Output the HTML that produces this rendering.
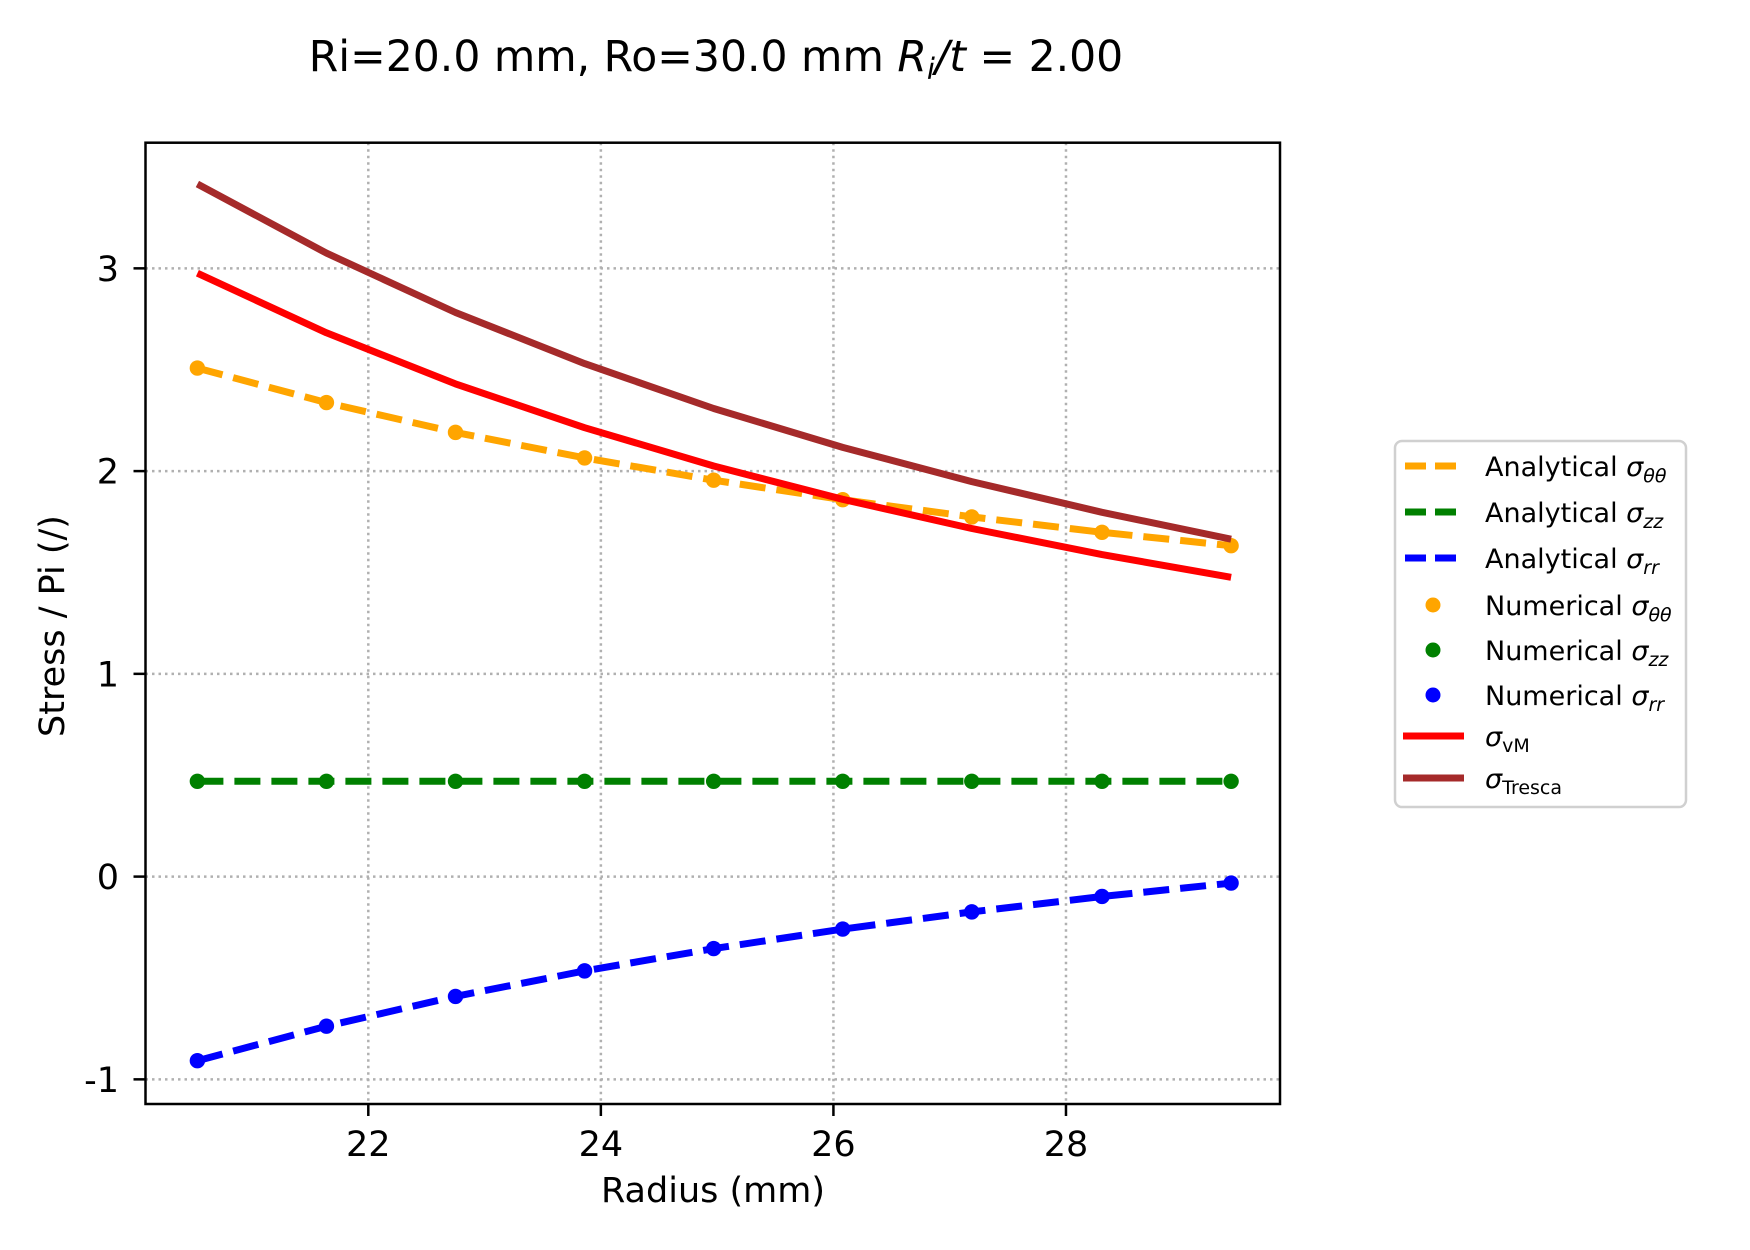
<!DOCTYPE html>
<html><head><meta charset="utf-8"><style>
html,body{margin:0;padding:0;background:#fff}
svg{display:block;font-family:"DejaVu Sans","Liberation Sans",sans-serif}
</style></head><body>
<svg id="chart" width="1750" height="1250" viewBox="0 0 1750 1250" xmlns="http://www.w3.org/2000/svg">
<rect x="0" y="0" width="1750" height="1250" fill="#fff"/>
<text x="716" y="71" font-size="42.5" text-anchor="middle">Ri=20.0 mm, Ro=30.0 mm <tspan font-style="italic">R</tspan><tspan font-style="italic" font-size="29" dy="8">i</tspan><tspan dy="-8" font-style="italic">/t</tspan> = 2.00</text>
<g id="grid"></g>
<g id="series"></g>
<rect x="145.5" y="142.7" width="1134.5" height="961.3" fill="none" stroke="#000" stroke-width="2.5"/>
<g id="ticks"></g>
<text x="713" y="1202" font-size="35" text-anchor="middle">Radius (mm)</text>
<text transform="translate(64,626) rotate(-90)" font-size="35" text-anchor="middle">Stress / Pi (/)</text>
<g>
<rect x="1395" y="441" width="291" height="366" rx="7" fill="#fff" stroke="#d0d0d0" stroke-width="2.5"/>
<g id="legend-items"></g>
</g>
</svg>
<script>
const radius = [20.53, 21.64, 22.75, 23.86, 24.97, 26.08, 27.19, 28.31, 29.42];
const sigmaTheta = [2.508, 2.338, 2.191, 2.065, 1.955, 1.859, 1.774, 1.698, 1.632];
const sigmaZZ = [0.47, 0.47, 0.47, 0.47, 0.47, 0.47, 0.47, 0.47, 0.47];
const sigmaRR = [-0.908, -0.738, -0.591, -0.465, -0.355, -0.259, -0.174, -0.098, -0.032];
const sigmaVM = [2.976, 2.682, 2.430, 2.214, 2.025, 1.861, 1.717, 1.588, 1.476];
const sigmaTresca = [3.416, 3.075, 2.782, 2.530, 2.309, 2.117, 1.948, 1.797, 1.664];
const xTicks = [22, 24, 26, 28];
const yTicks = [-1, 0, 1, 2, 3];
const yTickLabels = ["-1", "0", "1", "2", "3"];

const NS = "http://www.w3.org/2000/svg";
const X0 = 145.5, X1 = 1280, Y0 = 142.7, Y1 = 1104;
function xs(v){ return 368.3 + (v - 22) * 116.28; }
function ys(v){ return 876.6 - v * 202.75; }
function mk(tag, attrs, parent){
  const e = document.createElementNS(NS, tag);
  for (const k in attrs) e.setAttribute(k, attrs[k]);
  parent.appendChild(e);
  return e;
}
const grid = document.getElementById('grid');
const ticks = document.getElementById('ticks');
const series = document.getElementById('series');
const legendItems = document.getElementById('legend-items');

xTicks.forEach(t => {
  const x = xs(t);
  const g = mk('line', {x1:x, x2:x, y1:Y0, y2:Y1, stroke:'#b0b0b0', 'stroke-width':2.5, 'stroke-dasharray':'2.5 4'}, grid);
  
  
  const tk = mk('line', {x1:x, x2:x, y1:Y1, y2:Y1+12, stroke:'#000', 'stroke-width':2.5}, ticks);
  
  
  const lb = mk('text', {x:x, y:1156, 'font-size':35, 'text-anchor':'middle'}, ticks);
  lb.textContent = String(t);
  
  
});
yTicks.forEach((t, i) => {
  const y = ys(t);
  const g = mk('line', {x1:X0, x2:X1, y1:y, y2:y, stroke:'#b0b0b0', 'stroke-width':2.5, 'stroke-dasharray':'2.5 4'}, grid);
  
  
  const tk = mk('line', {x1:X0-12, x2:X0, y1:y, y2:y, stroke:'#000', 'stroke-width':2.5}, ticks);
  
  
  const lb = mk('text', {x:119, y:y+12.5, 'font-size':35, 'text-anchor':'end'}, ticks);
  lb.textContent = yTickLabels[i];
  
  
});

function pts(vals){ return radius.map((r,i)=>xs(r).toFixed(1)+','+ys(vals[i]).toFixed(1)).join(' '); }
function line(vals, color, dashed, name){
  const attrs = {points:pts(vals), fill:'none', stroke:color, 'stroke-width':7, 'stroke-linejoin':'round'};
  if (dashed) attrs['stroke-dasharray'] = '26 11';
  const p = mk('polyline', attrs, series);
  
  
}
function dots(vals, color, name){
  radius.forEach((r,i)=>{
    const c = mk('circle', {cx:xs(r), cy:ys(vals[i]), r:7.7, fill:color}, series);
    
    
  });
}
line(sigmaTheta, '#ffa500', true, 'analytical-sigma-theta-line');
line(sigmaZZ, '#008000', true, 'analytical-sigma-zz-line');
line(sigmaRR, '#0000ff', true, 'analytical-sigma-rr-line');
dots(sigmaTheta, '#ffa500', 'numerical-sigma-theta-point');
dots(sigmaZZ, '#008000', 'numerical-sigma-zz-point');
dots(sigmaRR, '#0000ff', 'numerical-sigma-rr-point');
line(sigmaVM, '#ff0000', false, 'von-mises-line');
line(sigmaTresca, '#a52a2a', false, 'tresca-line');

const legendDefs = [
  {y:466, color:'#ffa500', type:'dash', label:'Analytical ', sub:'θθ'},
  {y:512, color:'#008000', type:'dash', label:'Analytical ', sub:'zz'},
  {y:558, color:'#0000ff', type:'dash', label:'Analytical ', sub:'rr'},
  {y:605, color:'#ffa500', type:'dot', label:'Numerical ', sub:'θθ'},
  {y:650, color:'#008000', type:'dot', label:'Numerical ', sub:'zz'},
  {y:695, color:'#0000ff', type:'dot', label:'Numerical ', sub:'rr'},
  {y:736, color:'#ff0000', type:'solid', label:'', sub:'vM'},
  {y:778, color:'#a52a2a', type:'solid', label:'', sub:'Tresca'}
];
legendDefs.forEach(d => {
  if (d.type === 'dot') {
    const c = mk('circle', {cx:1433, cy:d.y, r:7.5, fill:d.color}, legendItems);
    
    
  } else {
    const a = {x1:1403, x2:1464, y1:d.y, y2:d.y, stroke:d.color, 'stroke-width':7};
    if (d.type === 'dash') { a['stroke-dasharray'] = '21 9'; a.x1 = 1405; a.x2 = 1462; }
    const l = mk('line', a, legendItems);
    
    
  }
  const t = mk('text', {x:1485, y:d.y+10, 'font-size':27}, legendItems);
  
  
  const upright = d.sub === 'vM' || d.sub === 'Tresca';
  t.innerHTML = d.label + '<tspan font-style="italic">σ</tspan><tspan font-size="19" dy="6"' + (upright ? '' : ' font-style="italic"') + '>' + d.sub + '</tspan>';
});
</script>
</body></html>
